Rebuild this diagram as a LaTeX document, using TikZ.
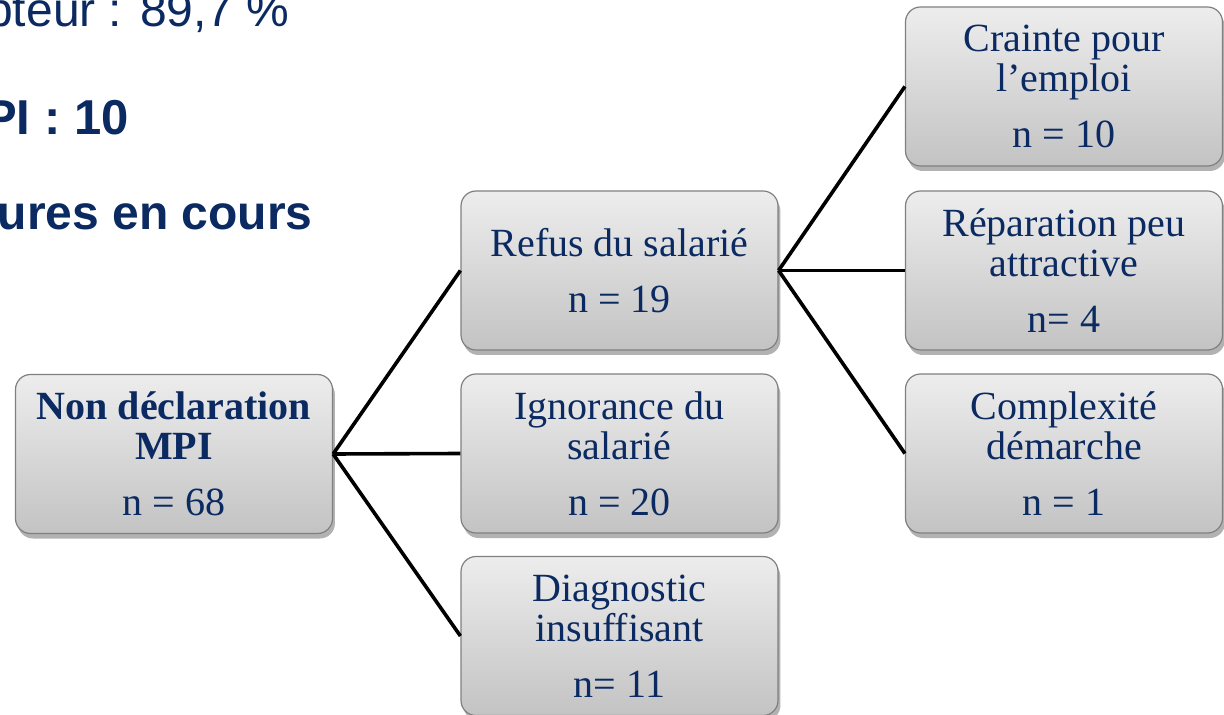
\documentclass[tikz,border=0pt]{standalone}
\usepackage{fontspec}
\setmainfont{Liberation Serif}
\newfontfamily\arialf{Liberation Sans}
\usetikzlibrary{shadows}
\definecolor{navy}{HTML}{0B2A62}
\definecolor{boxtop}{HTML}{EDEDED}
\definecolor{boxbot}{HTML}{C3C3C3}
\definecolor{boxborder}{HTML}{808080}
\tikzset{
  box/.style={rectangle, rounded corners=7.5pt, draw=boxborder, line width=0.6pt,
    top color=boxtop, bottom color=boxbot, minimum width=158.5pt, minimum height=79.5pt,
    inner sep=0pt, align=center, text=navy, font=\fontsize{20}{20}\selectfont,
    drop shadow={shadow xshift=1.2pt, shadow yshift=-2.5pt, opacity=0.3, fill=black}},
  link/.style={line width=1.8pt, draw=black},
  head/.style={text=navy, inner sep=0pt, anchor=base east, font=\arialf\fontsize{24}{24}\selectfont}
}
\begin{document}
\begin{tikzpicture}[x=0.5pt, y=-0.5pt]
\useasboundingbox (0,0) rectangle (1224,715);
\fill[white] (0,0) rectangle (1224,715);
% header text (cut at left edge)
\node[head] (h1) at (290,27) {pteur : 89,7 \%};
\node[head, font=\arialf\bfseries\fontsize{24.5}{24.5}\selectfont] (h2) at (129,135) {PI : 10};
\node[head, font=\arialf\bfseries\fontsize{24}{24}\selectfont] (h3) at (313,230) {ures en cours};
% boxes
\node[box] (A) at (174,454) {\textbf{Non déclaration}\\\textbf{MPI}\\[8pt]n = 68};
\node[box] (B1) at (619.5,270.5) {Refus du salarié\\[8pt]n = 19};
\node[box] (B2) at (619.5,453.5) {Ignorance du\\salarié\\[8pt]n = 20};
\node[box] (B3) at (619.5,636) {Diagnostic\\insuffisant\\[8pt]n= 11};
\node[box] (C1) at (1064,86.5) {Crainte pour\\l’emploi\\[8pt]n = 10};
\node[box] (C2) at (1064,270.5) {Réparation peu\\attractive\\[8pt]n= 4};
\node[box] (C3) at (1064,453.5) {Complexité\\démarche\\[8pt]n = 1};
% connectors
\draw[link] (A.east) -- (B1.west);
\draw[link] (A.east) -- (B2.west);
\draw[link] (A.east) -- (B3.west);
\draw[link] (B1.east) -- (C1.west);
\draw[link] (B1.east) -- (C2.west);
\draw[link] (B1.east) -- (C3.west);
\end{tikzpicture}
\end{document}
